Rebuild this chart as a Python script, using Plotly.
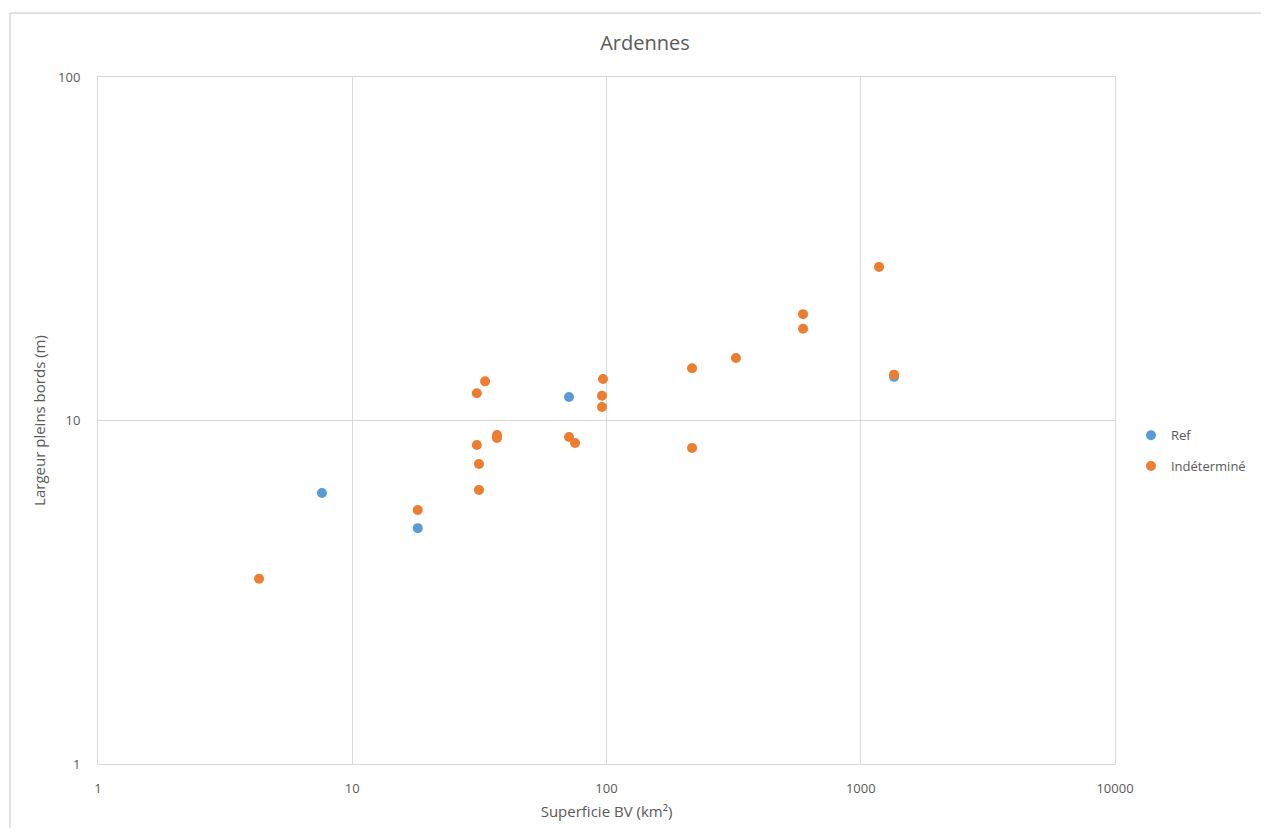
import plotly.graph_objects as go

# Data (log-log axes)
ref_x = [7.6, 18.1, 71.2, 1352]
ref_y = [6.15, 4.86, 11.7, 13.4]

ind_x = [4.3, 18.1, 30.9, 33.3, 30.9, 31.5, 31.5, 37.1, 37.1, 71.2, 75.2,
         96.9, 96.0, 96.0, 217, 217, 323, 593, 593, 1180, 1352]
ind_y = [3.46, 5.49, 12.0, 13.0, 8.49, 7.47, 6.28, 9.07, 8.89, 8.95, 8.60,
         13.2, 11.8, 10.95, 14.2, 8.32, 15.2, 20.4, 18.5, 28.0, 13.6]

x_ticks = [1, 10, 100, 1000, 10000]
y_ticks = [1, 10, 100]

GRAY = "#595959"
GRID = "#D9D9D9"
FONT = "Open Sans"

W, H = 1253, 820
L, T = 90, 69
PW, PH = 1017, 687

fig = go.Figure()
fig.add_trace(go.Scatter(x=ref_x, y=ref_y, mode="markers", name="Ref", legendgroup="a",
                         marker=dict(color="#5B9BD5", size=10, line=dict(width=0))))
fig.add_trace(go.Scatter(x=ind_x, y=ind_y, mode="markers", name="Indéterminé", legendgroup="b",
                         marker=dict(color="#ED7D31", size=10, line=dict(width=0))))

fig.update_layout(
    width=W, height=H,
    margin=dict(l=L, r=W - L - PW, t=T, b=H - T - PH, autoexpand=False),
    paper_bgcolor="white", plot_bgcolor="white",
    font=dict(family=FONT, color=GRAY, size=12),
    title=dict(text="Ardennes", x=637 / W, xanchor="center",
               y=1 - 35 / H, yanchor="middle",
               font=dict(size=20, color=GRAY, family=FONT)),
    legend=dict(x=1.0157, xanchor="left", y=0.456, yanchor="middle",
                font=dict(size=13, color=GRAY, family=FONT),
                itemwidth=30, traceorder="grouped", tracegroupgap=11,
                bgcolor="rgba(0,0,0,0)"),
    showlegend=True,
)

fig.update_xaxes(type="log", range=[0, 4], tickvals=x_ticks,
                 ticktext=[str(v) for v in x_ticks],
                 showgrid=True, gridcolor=GRID, gridwidth=1,
                 showline=True, linecolor=GRID, linewidth=1, mirror=True,
                 zeroline=False, ticks="", ticklabelstandoff=12,
                 tickfont=dict(size=13, color=GRAY),
                 title=dict(text="Superficie BV (km²)", standoff=10,
                            font=dict(size=15, color=GRAY)))
fig.update_yaxes(type="log", range=[0, 2], tickvals=y_ticks,
                 ticktext=[str(v) for v in y_ticks],
                 showgrid=True, gridcolor=GRID, gridwidth=1,
                 showline=True, linecolor=GRID, linewidth=1, mirror=True,
                 zeroline=False, ticks="", ticklabelstandoff=14,
                 tickfont=dict(size=13, color=GRAY),
                 title=dict(text="Largeur pleins bords (m)", standoff=8,
                            font=dict(size=15, color=GRAY)))

# Outer chart-area border (top and left edges visible in the frame)
fig.add_shape(type="line", xref="paper", yref="paper",
              x0=(2 - L) / PW, x1=(W + 20 - L) / PW,
              y0=1 + (T - 5) / PH, y1=1 + (T - 5) / PH,
              line=dict(color=GRID, width=1.5), layer="below")
fig.add_shape(type="line", xref="paper", yref="paper",
              x0=(2 - L) / PW, x1=(2 - L) / PW,
              y0=-(H + 20 - T - PH) / PH, y1=1 + (T - 5) / PH,
              line=dict(color=GRID, width=1.5), layer="below")

fig.write_html("out.html")
